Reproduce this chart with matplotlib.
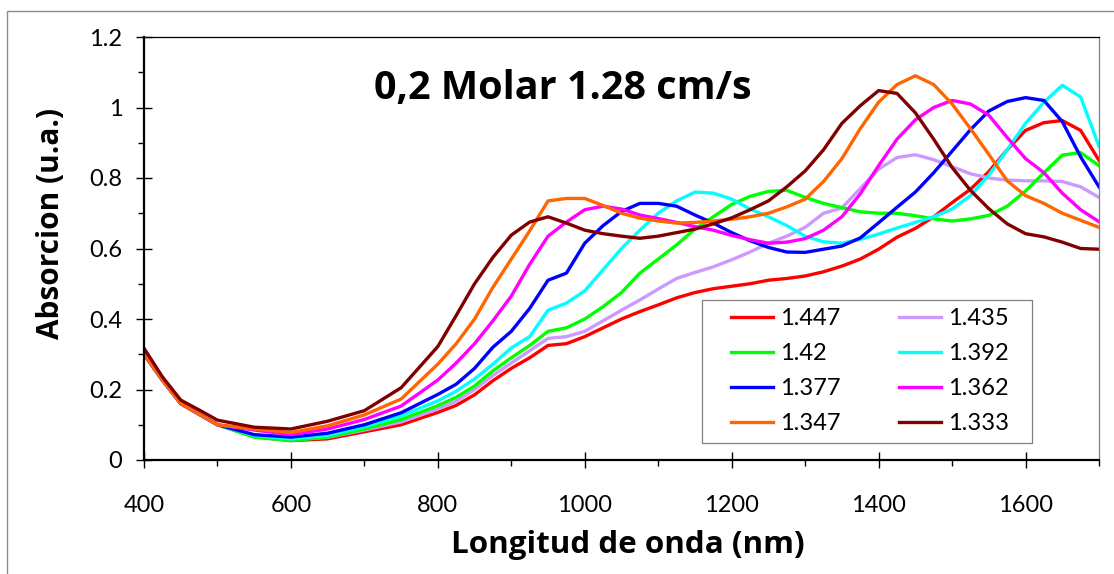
import matplotlib
matplotlib.use("Agg")
import matplotlib.pyplot as plt
from matplotlib.patches import Rectangle
from matplotlib.ticker import MultipleLocator

plt.rcParams['font.family'] = ['Lato', 'DejaVu Sans']

# longitud de onda (nm)
wl = [400, 425, 450, 475, 500, 550, 600, 650, 700, 750, 800,
      825, 850, 875, 900, 925, 950, 975, 1000, 1025, 1050, 1075, 1100,
      1125, 1150, 1175, 1200, 1225, 1250, 1275, 1300, 1325, 1350, 1375,
      1400, 1425, 1450, 1475, 1500, 1525, 1550, 1575, 1600, 1625, 1650,
      1675, 1700]

# absorcion por indice de refraccion
a_1447 = [0.30, 0.227, 0.16, 0.13, 0.10, 0.066, 0.055, 0.06, 0.08, 0.10, 0.135,
          0.155, 0.185, 0.225, 0.26, 0.29, 0.325, 0.33, 0.35, 0.375, 0.40, 0.421, 0.44,
          0.46, 0.475, 0.486, 0.493, 0.50, 0.51, 0.515, 0.522, 0.534, 0.55, 0.57,
          0.598, 0.632, 0.657, 0.69, 0.73, 0.768, 0.818, 0.88, 0.935, 0.957, 0.963,
          0.935, 0.85]
a_1435 = [0.30, 0.227, 0.16, 0.13, 0.10, 0.068, 0.058, 0.064, 0.085, 0.108, 0.145,
          0.167, 0.20, 0.24, 0.275, 0.31, 0.345, 0.35, 0.365, 0.395, 0.425, 0.454, 0.485,
          0.515, 0.532, 0.548, 0.568, 0.59, 0.615, 0.635, 0.66, 0.70, 0.715, 0.77,
          0.825, 0.858, 0.866, 0.852, 0.832, 0.812, 0.80, 0.794, 0.792, 0.792, 0.79,
          0.775, 0.745]
a_1420 = [0.30, 0.227, 0.16, 0.13, 0.10, 0.065, 0.055, 0.065, 0.088, 0.115, 0.154,
          0.178, 0.21, 0.253, 0.29, 0.325, 0.365, 0.375, 0.40, 0.435, 0.475, 0.53, 0.57,
          0.61, 0.655, 0.69, 0.725, 0.748, 0.762, 0.765, 0.745, 0.728, 0.716, 0.704,
          0.70, 0.70, 0.693, 0.684, 0.678, 0.684, 0.694, 0.72, 0.763, 0.815, 0.865,
          0.872, 0.835]
a_1392 = [0.30, 0.227, 0.16, 0.13, 0.10, 0.07, 0.06, 0.07, 0.095, 0.125, 0.168,
          0.195, 0.23, 0.272, 0.318, 0.35, 0.425, 0.445, 0.48, 0.54, 0.60, 0.652, 0.70,
          0.735, 0.76, 0.757, 0.74, 0.712, 0.69, 0.665, 0.635, 0.619, 0.615, 0.626,
          0.641, 0.658, 0.674, 0.69, 0.712, 0.75, 0.808, 0.88, 0.955, 1.015, 1.063,
          1.03, 0.89]
a_1377 = [0.30, 0.227, 0.16, 0.13, 0.10, 0.072, 0.065, 0.076, 0.10, 0.134, 0.186,
          0.215, 0.26, 0.32, 0.365, 0.43, 0.51, 0.53, 0.615, 0.665, 0.705, 0.728, 0.728,
          0.72, 0.695, 0.672, 0.645, 0.622, 0.603, 0.59, 0.589, 0.598, 0.607, 0.63,
          0.673, 0.717, 0.76, 0.815, 0.876, 0.937, 0.99, 1.017, 1.028, 1.02, 0.96,
          0.86, 0.775]
a_1362 = [0.30, 0.227, 0.16, 0.13, 0.10, 0.085, 0.072, 0.088, 0.115, 0.153, 0.227,
          0.275, 0.33, 0.395, 0.465, 0.555, 0.635, 0.675, 0.71, 0.72, 0.712, 0.695, 0.685,
          0.674, 0.662, 0.652, 0.637, 0.625, 0.615, 0.618, 0.628, 0.652, 0.69, 0.755,
          0.835, 0.91, 0.965, 1.0, 1.02, 1.01, 0.978, 0.915, 0.855, 0.815, 0.757,
          0.71, 0.676]
a_1347 = [0.30, 0.227, 0.16, 0.13, 0.10, 0.088, 0.078, 0.097, 0.128, 0.173, 0.272,
          0.33, 0.40, 0.49, 0.57, 0.65, 0.735, 0.742, 0.742, 0.722, 0.70, 0.686, 0.678,
          0.672, 0.674, 0.678, 0.683, 0.69, 0.70, 0.718, 0.74, 0.79, 0.855, 0.94,
          1.015, 1.065, 1.09, 1.065, 1.01, 0.94, 0.867, 0.792, 0.75, 0.728, 0.70,
          0.68, 0.66]
a_1333 = [0.317, 0.236, 0.17, 0.142, 0.113, 0.093, 0.088, 0.11, 0.14, 0.205, 0.322,
          0.41, 0.50, 0.575, 0.638, 0.675, 0.69, 0.672, 0.652, 0.642, 0.635, 0.629, 0.635,
          0.645, 0.655, 0.67, 0.687, 0.71, 0.735, 0.775, 0.82, 0.88, 0.955, 1.005,
          1.048, 1.04, 0.985, 0.91, 0.83, 0.765, 0.713, 0.67, 0.642, 0.633, 0.618,
          0.60, 0.598]

labels = ['1.447', '1.435', '1.42', '1.392', '1.377', '1.362', '1.347', '1.333']
colores = ['#FF0000', '#CC99FF', '#00FF00', '#00FFFF', '#0000FF', '#FF00FF', '#FF6600', '#800000']
series = [a_1447, a_1435, a_1420, a_1392, a_1377, a_1362, a_1347, a_1333]

W, H = 1114, 574
fig = plt.figure(figsize=(W/100, H/100), dpi=100)
ax = fig.add_axes([144/W, 114/H, 955/W, 423/H])

lineas = []
for y, c, lab in zip(series, colores, labels):
    l, = ax.plot(wl, y, color=c, lw=2.4, label=lab, solid_joinstyle='round')
    lineas.append(l)

ax.set_xlim(400, 1700)
ax.set_ylim(0, 1.2)
ax.xaxis.set_minor_locator(MultipleLocator(100))
ax.yaxis.set_minor_locator(MultipleLocator(0.1))
ax.set_xticks([400, 600, 800, 1000, 1200, 1400, 1600])
ax.set_yticks([0, 0.2, 0.4, 0.6, 0.8, 1.0, 1.2])
ax.set_yticklabels(['0', '0.2', '0.4', '0.6', '0.8', '1', '1.2'])
ax.tick_params(which='major', direction='inout', length=12, width=1, labelsize=17)
ax.tick_params(which='minor', direction='out', length=4, width=1)
ax.tick_params(axis='x', which='major', pad=19.5)
ax.tick_params(axis='y', which='major', pad=9.5)

for s in ['left', 'bottom']:
    ax.spines[s].set_linewidth(1.6)
ax.spines['top'].set_linewidth(0.9)
ax.spines['right'].set_color('#808080')
ax.spines['right'].set_linewidth(0.9)

negrita = dict(family=['Open Sans', 'DejaVu Sans'], fontweight='bold')
fig.text(628/W, 1 - 553/H, 'Longitud de onda (nm)', fontsize=22.6,
         ha='center', va='baseline', **negrita)
fig.text(51/W, 1 - 223/H, 'Absorcion (u.a.)', fontsize=21.4, rotation=90,
         ha='center', va='center', **negrita)
fig.text(563/W, 1 - 99/H, '0,2 Molar 1.28 cm/s', fontsize=28.5,
         ha='center', va='baseline', **negrita)

# caja de la leyenda
caja = Rectangle((702/W, 1 - 443/H), 330/W, 143/H, transform=fig.transFigure,
                 facecolor='white', edgecolor='#808080', lw=0.9, zorder=5)
ax.add_patch(caja)

# leyenda en dos columnas, orden por filas
orden = [0, 2, 4, 6, 1, 3, 5, 7]
leg = ax.legend([lineas[i] for i in orden], [labels[i] for i in orden], ncol=2,
                loc='upper left', bbox_to_anchor=(731/W, 1 - 308/H),
                bbox_transform=fig.transFigure, fontsize=17, frameon=False,
                handlelength=1.78, handletextpad=0.28, columnspacing=2.5,
                labelspacing=0.6, borderpad=0, borderaxespad=0)
leg.set_zorder(6)

# borde del area del grafico
fig.patches.append(Rectangle((7/W, -0.1), 2, 1 - 11/H + 0.1, transform=fig.transFigure,
                             fill=False, edgecolor='#8c8c8c', lw=1))

fig.savefig('out.png', dpi=100)
